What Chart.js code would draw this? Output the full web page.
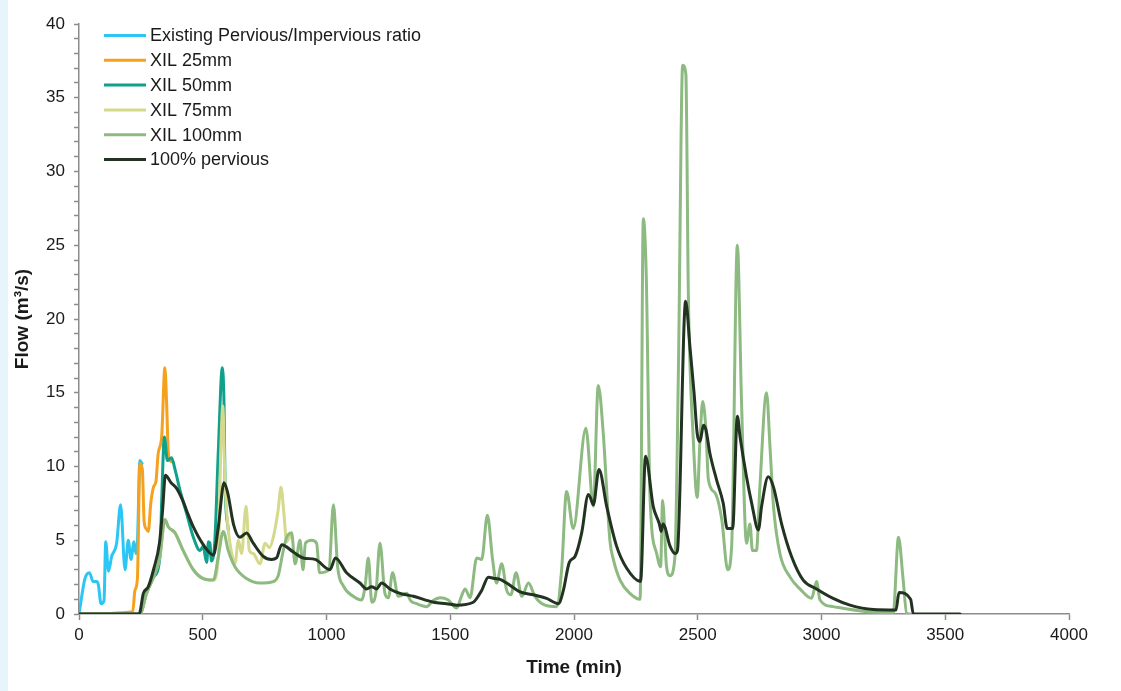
<!DOCTYPE html>
<html>
<head>
<meta charset="utf-8">
<script src="https://cdn.jsdelivr.net/npm/chart.js@4/dist/chart.umd.min.js"></script>
<style>
  html, body { margin: 0; padding: 0; background: #fff; }
  #wrap { position: relative; width: 1121px; height: 691px; }
  #strip { position: absolute; left: 0; top: 0; width: 8px; height: 691px; background: #e6f4fc; }
  #plot { position: absolute; left: 0; top: 0; }
</style>
</head>
<body>
<div id="wrap"><div id="strip"></div><canvas id="plot" width="1121" height="691"></canvas></div>
<script>
// time (min) / flow (m3/s), one pair of arrays per series
const t_existing = [0, 24, 42, 57, 71, 78, 89, 101, 108, 119, 132, 152, 168, 186, 199, 210, 222, 230, 236, 246, 255];
const q_existing = [0, 2.4, 2.8, 2.2, 2.2, 2.0, 0.7, 0.9, 4.9, 2.9, 3.9, 4.8, 7.4, 3.0, 5.0, 3.7, 4.9, 4.1, 4.8, 10.4, 10.2];

const t_xil25 = [0, 217, 226, 236, 246, 256, 263, 271, 280, 290, 301, 311, 320, 334, 347, 354, 361, 368, 380];
const q_xil25 = [0, 0.15, 1.6, 2.4, 10.2, 9.8, 6.3, 5.8, 5.6, 7.5, 8.6, 9.0, 10.9, 12.0, 16.7, 14.3, 10.9, 10.4, 10.3];

const t_xil50 = [0, 246, 273, 301, 327, 334, 345, 357, 374, 388, 408, 435, 462, 489, 502, 510, 516, 523, 529, 535, 540, 549, 563, 579, 586, 590, 603];
const q_xil50 = [0, 0, 1.4, 2.5, 3.9, 7.6, 12.0, 10.4, 10.6, 9.8, 8.4, 6.8, 5.2, 4.3, 4.6, 3.9, 3.5, 4.9, 4.8, 3.6, 3.7, 5.0, 11.1, 16.7, 14.2, 8.9, 5.7];

const t_xil75 = [0, 246, 273, 301, 327, 347, 361, 388, 421, 462, 502, 543, 563, 572, 581, 590, 603, 617, 630, 644, 657, 675, 688, 704, 731, 752, 769, 785, 805, 816, 828, 839, 859];
const q_xil75 = [0, 0, 1.4, 2.5, 3.9, 6.4, 5.9, 5.5, 4.3, 3.0, 2.4, 2.3, 3.9, 10.5, 14.1, 8.9, 5.7, 4.1, 3.4, 5.0, 4.1, 7.3, 4.3, 4.1, 3.4, 4.8, 4.5, 5.2, 7.1, 8.6, 6.8, 4.9, 5.5];

const t_xil100 = [0, 246, 273, 301, 327, 347, 361, 388, 421, 462, 502, 543, 563, 583, 603, 630, 677, 731, 785, 805, 823, 839, 859, 873, 893, 905, 915, 940, 960, 972, 1010, 1028, 1045, 1068, 1108, 1142, 1156, 1169, 1183, 1200, 1216, 1236, 1250, 1267, 1290, 1324, 1340, 1364, 1404, 1430, 1459, 1492, 1526, 1545, 1560, 1580, 1607, 1627, 1650, 1671, 1687, 1708, 1728, 1745, 1766, 1789, 1816, 1842, 1883, 1930, 1950, 1970, 1997, 2048, 2078, 2098, 2118, 2145, 2159, 2186, 2226, 2267, 2280, 2292, 2307, 2334, 2350, 2358, 2374, 2388, 2408, 2422, 2439, 2452, 2462, 2482, 2498, 2509, 2520, 2533, 2543, 2570, 2597, 2621, 2637, 2660, 2677, 2697, 2711, 2721, 2737, 2751, 2778, 2792, 2806, 2832, 2873, 2913, 2960, 2980, 2994, 3047, 3182, 3290, 3311, 3330, 3344, 3360];
const q_xil100 = [0, 0, 1.4, 2.5, 3.9, 6.4, 5.9, 5.5, 4.3, 3.0, 2.4, 2.3, 3.9, 5.6, 4.3, 3.2, 2.4, 2.1, 2.2, 2.6, 4.1, 5.2, 5.5, 3.4, 5.0, 3.0, 4.8, 5.0, 4.8, 2.8, 3.0, 7.4, 3.2, 1.9, 1.2, 0.95, 1.9, 3.8, 0.8, 1.5, 4.8, 1.4, 1.1, 2.8, 1.2, 1.4, 0.9, 0.7, 0.5, 0.9, 1.1, 0.95, 0.4, 1.2, 1.7, 1.1, 3.8, 3.7, 6.7, 3.7, 2.1, 3.4, 1.6, 1.3, 2.8, 1.2, 2.1, 1.2, 0.6, 0.5, 3.0, 8.3, 5.8, 12.6, 7.3, 15.5, 12.3, 5.0, 3.7, 2.3, 1.4, 1.0, 26.8, 22.9, 8.0, 4.1, 3.2, 7.7, 3.2, 2.6, 3.9, 16.7, 37.2, 36.6, 21.7, 11.8, 7.9, 11.8, 14.4, 12.5, 9.1, 8.2, 6.4, 3.0, 4.6, 25.0, 14.3, 4.8, 6.1, 4.3, 4.3, 8.6, 15.0, 11.3, 7.3, 4.1, 2.5, 1.7, 1.06, 2.2, 0.95, 0.5, 0.16, 0.1, 5.2, 2.3, 0.05, 0];

const t_pervious = [0, 243, 260, 280, 301, 325, 338, 349, 372, 395, 419, 442, 462, 502, 543, 563, 586, 601, 624, 650, 677, 704, 745, 778, 798, 819, 866, 906, 954, 1014, 1036, 1081, 1135, 1162, 1183, 1202, 1223, 1256, 1297, 1351, 1432, 1485, 1526, 1593, 1627, 1654, 1681, 1701, 1728, 1782, 1836, 1889, 1937, 1957, 1981, 2004, 2031, 2058, 2066, 2078, 2101, 2132, 2172, 2213, 2269, 2289, 2320, 2345, 2352, 2360, 2388, 2408, 2418, 2451, 2469, 2485, 2498, 2509, 2523, 2533, 2549, 2576, 2603, 2619, 2641, 2660, 2671, 2697, 2718, 2745, 2758, 2785, 2806, 2839, 2879, 2926, 2980, 3047, 3115, 3209, 3301, 3313, 3360, 3371, 3560];
const q_pervious = [0, 0, 1.4, 1.85, 3.0, 4.8, 7.1, 9.4, 8.9, 8.5, 7.7, 6.7, 5.9, 4.7, 4.0, 5.9, 8.9, 8.2, 6.1, 5.2, 5.5, 4.8, 3.9, 3.7, 3.8, 4.7, 4.2, 3.8, 3.7, 3.0, 3.8, 2.8, 2.1, 1.7, 1.85, 1.7, 2.1, 1.7, 1.4, 1.2, 0.8, 0.7, 0.6, 0.8, 1.6, 2.5, 2.4, 2.35, 2.1, 1.5, 1.3, 1.06, 0.7, 1.6, 3.5, 3.9, 5.5, 8.1, 7.9, 7.4, 9.8, 7.3, 4.6, 3.1, 2.2, 10.7, 7.3, 6.1, 5.6, 6.1, 4.6, 4.1, 4.3, 21.2, 18.0, 15.0, 12.2, 11.7, 12.8, 12.5, 10.9, 9.1, 7.5, 5.8, 5.8, 13.4, 12.0, 9.3, 7.5, 5.7, 7.3, 9.3, 8.6, 6.1, 3.9, 2.3, 1.7, 1.06, 0.6, 0.3, 0.27, 1.45, 1.0, 0, 0];

const series_names = ['Existing Pervious/Impervious ratio', 'XIL 25mm', 'XIL 50mm', 'XIL 75mm', 'XIL 100mm', '100% pervious'];
const series_colors = ['#2cc6f4', '#f5a11e', '#10a08c', '#d5d98c', '#8dba80', '#223322'];
const x_ticks = { min: 0, max: 4000, step: 500 };
const y_ticks = { min: 0, max: 40, step: 5 };

const FONTE = '"Liberation Sans", Arial, sans-serif';
const COR_EIXO = '#8c8c8c';
const COR_TEXTO = '#1a1a1a';

function pontos(ts, qs) {
    return ts.map((t, i) => ({ x: t, y: qs[i] }));
}

const series_data = [
    pontos(t_existing, q_existing),
    pontos(t_xil25, q_xil25),
    pontos(t_xil50, q_xil50),
    pontos(t_xil75, q_xil75),
    pontos(t_xil100, q_xil100),
    pontos(t_pervious, q_pervious)
];

// excel draws later series on top, chart.js draws lower "order" on top
const datasets = series_data.map((d, i) => ({
    label: series_names[i],
    data: d,
    borderColor: series_colors[i],
    backgroundColor: series_colors[i],
    borderWidth: 3,
    borderJoinStyle: 'round',
    borderCapStyle: 'round',
    pointRadius: 0,
    cubicInterpolationMode: 'monotone',
    fill: false,
    order: series_names.length - 1 - i
}));

// legend sits inside the plot, top left
const legenda_interna = {
    id: 'legenda_interna',
    afterDraw(chart) {
        const ctx = chart.ctx;
        ctx.save();
        ctx.font = '18px ' + FONTE;
        ctx.textBaseline = 'middle';
        ctx.textAlign = 'left';
        chart.data.datasets.forEach((ds, i) => {
            const y = 35.5 + i * 24.8;
            ctx.strokeStyle = ds.borderColor;
            ctx.lineWidth = 3;
            ctx.beginPath();
            ctx.moveTo(104, y);
            ctx.lineTo(146, y);
            ctx.stroke();
            ctx.fillStyle = COR_TEXTO;
            ctx.fillText(ds.label, 150, y + 1);
        });
        ctx.restore();
    }
};

const plot = document.getElementById('plot');

const grafico = new Chart(plot, {
    type: 'line',
    data: { datasets: datasets },
    plugins: [legenda_interna],
    options: {
        responsive: false,
        animation: false,
        devicePixelRatio: 1,
        layout: { padding: { top: 24, right: 52, bottom: 0, left: 0 } },
        plugins: {
            legend: { display: false },
            tooltip: { enabled: false }
        },
        scales: {
            x: {
                type: 'linear',
                min: x_ticks.min,
                max: x_ticks.max,
                ticks: {
                    stepSize: x_ticks.step,
                    autoSkip: false,
                    maxRotation: 0,
                    padding: 5,
                    color: COR_TEXTO,
                    font: { family: FONTE, size: 17 },
                    callback: (v) => String(v)
                },
                grid: { drawOnChartArea: false, tickLength: 6, tickColor: COR_EIXO, tickWidth: 1.5 },
                border: { color: COR_EIXO, width: 1.5 },
                title: {
                    display: true,
                    text: 'Time (min)',
                    color: COR_TEXTO,
                    font: { family: FONTE, size: 19, weight: 'bold' },
                    padding: { top: 0, bottom: 12 }
                },
                afterFit(s) { s.height = 77; }
            },
            y: {
                min: y_ticks.min,
                max: y_ticks.max,
                ticks: {
                    stepSize: 1,
                    autoSkip: false,
                    padding: 9,
                    color: COR_TEXTO,
                    font: { family: FONTE, size: 17 },
                    callback: (v) => (v % y_ticks.step === 0 ? String(v) : '')
                },
                grid: { drawOnChartArea: false, tickLength: 5, tickColor: COR_EIXO, tickWidth: 1.5 },
                border: { color: COR_EIXO, width: 1.5 },
                title: {
                    display: true,
                    text: 'Flow (m³/s)',
                    color: COR_TEXTO,
                    font: { family: FONTE, size: 19, weight: 'bold' },
                    padding: { top: 11, bottom: 0 }
                },
                afterFit(s) { s.width = 79; }
            }
        }
    }
});
</script>
</body>
</html>
